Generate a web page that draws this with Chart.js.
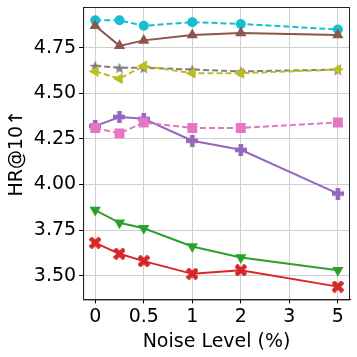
<!DOCTYPE html>
<html>
<head>
<meta charset="utf-8">
<script src="https://cdn.jsdelivr.net/npm/chart.js@4.4.1/dist/chart.umd.min.js"></script>
<style>
html,body{margin:0;padding:0;background:#fff}
#wrap{width:357px;height:357px}
</style>
</head>
<body>
<div id="wrap"><canvas id="myChart"></canvas></div>
<script>
// noise levels and the tick labels of the x axis
const noiseLevels = [0, 0.25, 0.5, 1, 2, 5]
const tickValues = [0, 0.5, 1, 2, 3, 5]
const tickLabels = ['0', '0.5', '1', '2', '3', '5']
const yTicks = [3.50, 3.75, 4.00, 4.25, 4.50, 4.75]

// HR@10 per model
const cyanSerie   = [4.90, 4.90, 4.87, 4.89, 4.88, 4.85]
const brownSerie  = [4.87, 4.76, 4.79, 4.82, 4.83, 4.82]
const graySerie   = [4.65, 4.64, 4.64, 4.63, 4.62, 4.63]
const oliveSerie  = [4.62, 4.58, 4.65, 4.61, 4.61, 4.63]
const purpleSerie = [4.32, 4.37, 4.36, 4.24, 4.19, 3.95]
const pinkSerie   = [4.31, 4.28, 4.34, 4.31, 4.31, 4.34]
const greenSerie  = [3.86, 3.79, 3.76, 3.66, 3.60, 3.53]
const redSerie    = [3.68, 3.62, 3.58, 3.51, 3.53, 3.44]

// the axis places the tick values evenly, points are placed in between
function posicion(v){
    for (let i = 0; i < tickValues.length - 1; i++) {
        let a = tickValues[i], b = tickValues[i + 1]
        if (v >= a && v <= b) return i + (v - a) / (b - a)
    }
    return tickValues.length - 1
}

function marcador(tipo, color, size){
    let c = document.createElement('canvas')
    c.width = size
    c.height = size
    let ctx = c.getContext('2d')
    let m = size / 2
    ctx.fillStyle = color
    ctx.beginPath()
    if (tipo == 'star') {
        let R = m, r = m * 0.42
        for (let i = 0; i < 10; i++) {
            let ang = -Math.PI / 2 + i * Math.PI / 5
            let rr = i % 2 == 0 ? R : r
            ctx.lineTo(m + rr * Math.cos(ang), m + rr * Math.sin(ang) + 0.8)
        }
    } else {
        // filled plus, rotated for the x
        let w = size * 0.19
        ctx.translate(m, m)
        if (tipo == 'x') ctx.rotate(Math.PI / 4)
        let L = tipo == 'x' ? m * 1.15 : m
        ctx.moveTo(-w, -L); ctx.lineTo(w, -L); ctx.lineTo(w, -w); ctx.lineTo(L, -w)
        ctx.lineTo(L, w); ctx.lineTo(w, w); ctx.lineTo(w, L); ctx.lineTo(-w, L)
        ctx.lineTo(-w, w); ctx.lineTo(-L, w); ctx.lineTo(-L, -w); ctx.lineTo(-w, -w)
    }
    ctx.closePath()
    ctx.fill()
    return c
}

function serie(valores, color, estilo, rot, dashed, radio){
    return {
        data: valores.map((y, i) => ({x: posicion(noiseLevels[i]), y: y})),
        borderColor: color,
        backgroundColor: color,
        pointBackgroundColor: color,
        pointBorderColor: color,
        pointStyle: estilo,
        pointRotation: rot,
        pointRadius: radio,
        pointBorderWidth: 0,
        borderWidth: 2,
        borderDash: dashed ? [6, 3] : [],
        tension: 0
    }
}

const marco = {
    id: 'marco',
    afterDraw(chart){
        let a = chart.chartArea
        let ctx = chart.ctx
        ctx.save()
        ctx.strokeStyle = '#222'
        ctx.lineWidth = 1
        ctx.strokeRect(a.left + 0.5, a.top + 0.5, a.right - a.left - 1, a.bottom - a.top)
        ctx.restore()
    }
}

let datasets = [
    serie(redSerie, '#d62728', marcador('x', '#d62728', 12), 0, false, 6),
    serie(greenSerie, '#2ca02c', 'triangle', 180, false, 6.5),
    serie(pinkSerie, '#e377c2', 'rect', 0, true, 7),
    serie(purpleSerie, '#9467bd', marcador('plus', '#9467bd', 12), 0, false, 6),
    serie(oliveSerie, '#bcbd22', 'triangle', -90, true, 6.5),
    serie(graySerie, '#7f7f7f', marcador('star', '#7f7f7f', 12), 0, true, 6),
    serie(brownSerie, '#8c564b', 'triangle', 0, false, 6.5),
    serie(cyanSerie, '#17becf', 'circle', 0, true, 5)
]

Chart.defaults.font.family = 'DejaVu Sans'
Chart.defaults.color = '#000'

new Chart(document.getElementById('myChart'), {
    type: 'line',
    data: {datasets},
    plugins: [marco],
    options: {
        responsive: true,
        maintainAspectRatio: false,
        animation: false,
        layout: {padding: {left: 6, right: 7, top: 6, bottom: 4}},
        plugins: {legend: {display: false}, tooltip: {enabled: false}},
        scales: {
            x: {
                type: 'linear',
                min: -0.25,
                max: 5.25,
                afterBuildTicks: ax => { ax.ticks = tickLabels.map((t, i) => ({value: i})) },
                ticks: {
                    callback: (v) => tickLabels[v],
                    font: {size: 19},
                    padding: 2,
                    maxRotation: 0
                },
                grid: {color: '#cfcfcf', lineWidth: 1, tickColor: '#000', tickLength: 4},
                border: {color: '#222'},
                title: {display: true, text: 'Noise Level (%)', font: {size: 19}, padding: {top: 0, bottom: 0}}
            },
            y: {
                min: 3.37,
                max: 4.973,
                afterBuildTicks: ax => { ax.ticks = yTicks.map(v => ({value: v})) },
                afterFit: ax => { ax.paddingTop = 0; ax.paddingBottom = 0 },
                ticks: {
                    callback: (v) => v.toFixed(2),
                    font: {size: 19},
                    padding: 3
                },
                grid: {color: '#cfcfcf', lineWidth: 1, tickColor: '#000', tickLength: 4},
                border: {color: '#222'},
                title: {display: true, text: 'HR@10↑', font: {size: 19}, padding: {top: 0, bottom: 2}}
            }
        }
    }
})
</script>
</body>
</html>
